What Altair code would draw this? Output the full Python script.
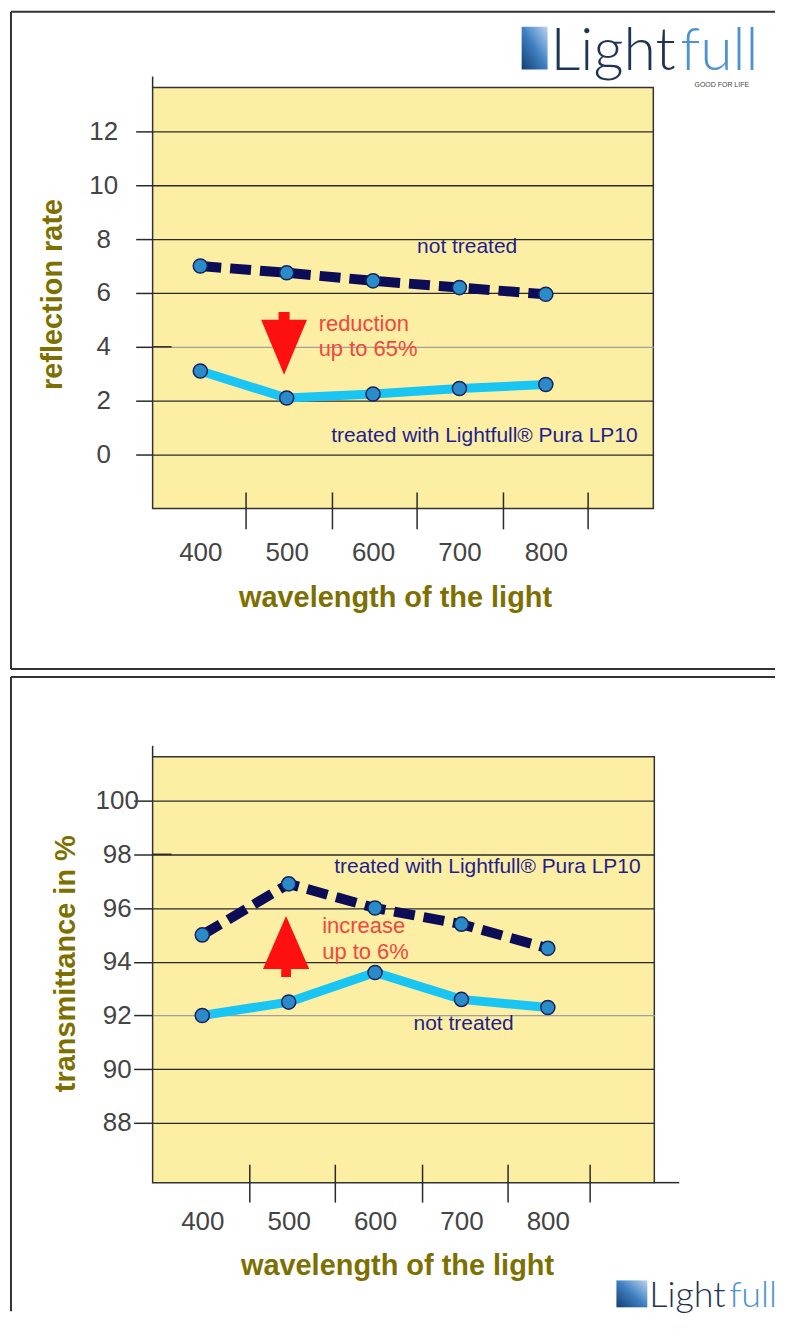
import altair as alt
import pandas as pd

# ---------------- data ----------------
wavelengths = [400, 500, 600, 700, 800]
refl_not_treated = [7.0, 6.75, 6.45, 6.2, 5.95]
refl_treated = [3.1, 2.1, 2.25, 2.45, 2.6]
trans_treated = [95.0, 96.9, 96.0, 95.4, 94.5]
trans_not_treated = [92.0, 92.5, 93.6, 92.6, 92.3]

top_y_ticks = [0, 2, 4, 6, 8, 10, 12]
bottom_y_ticks = [88, 90, 92, 94, 96, 98, 100]
top_x_marks = [453, 553, 651, 751, 849]
bottom_x_marks = [455, 554, 655, 754, 849]

top_note_text = ["not treated", "treated with Lightfull® Pura LP10"]
top_note_x = [651, 551.5]
top_note_y = [7.7, 0.67]
top_red_text = ["reduction", "up to 65%"]
top_red_x = [537, 537]
top_red_y = [4.85, 3.93]
top_arrow_x = [497]
top_arrow_y = [4.13]

bottom_note_text = ["treated with Lightfull® Pura LP10", "not treated"]
bottom_note_x = [552.7, 644.6]
bottom_note_y = [97.52, 91.67]
bottom_red_text = ["increase", "up to 6%"]
bottom_red_x = [538.8, 538.8]
bottom_red_y = [95.33, 94.37]
bottom_arrow_x = [497]
bottom_arrow_y = [94.57]

# ---------------- style ----------------
FONT = "Liberation Sans"
OLIVE = "#7d7000"
NAVY_TXT = "#1e1e90"
RED_TXT = "#f2473f"
RED = "#ff1010"
DARK = "#2a2a2a"
LINE_DARK = "#0c0c57"
LINE_CYAN = "#19c5f2"
PT_FILL = "#2b8bc9"
PT_STROKE = "#15235e"

ARROW_DOWN = "M-0.175,-1L0.175,-1L0.175,-0.75L0.73,-0.75L0,1L-0.73,-0.75L-0.175,-0.75Z"
ARROW_UP = "M0,-1L0.76,0.74L0.16,0.74L0.16,1L-0.16,1L-0.16,0.74L-0.76,0.74Z"

one = pd.DataFrame({"d": [0]})


def panel(W, H, xdom, ydom, yticks, ytitle, gray_value, ext_value, s1, s2, xmarks,
          notes, reds, arrow, arrow_shape, arrow_size, ytick_size, ylab_pad, ytitle_x,
          xtitle_x, xtitle_y, xlab_pad, tick_top, tick_bot, frame_left, frame_top,
          frame_bottom, frame_right, logo, bottom_line):
    x_axis = alt.Axis(values=wavelengths, ticks=False, domain=False, grid=False,
                      labelPadding=xlab_pad, labelFontSize=26, labelColor="#444444",
                      labelFont=FONT, format="d",
                      title="wavelength of the light", titleFont=FONT, titleFontSize=29,
                      titleFontWeight="bold", titleColor=OLIVE, titleX=xtitle_x,
                      titleY=xtitle_y, titleAlign="center", titleBaseline="middle")
    y_axis = alt.Axis(values=yticks, tickSize=ytick_size, tickColor=DARK, tickWidth=1.5,
                      labelAlign="center", labelBaseline="middle", labelPadding=ylab_pad,
                      labelFontSize=26, labelColor="#444444", labelFont=FONT,
                      grid=True,
                      gridColor={"condition": {"test": f"datum.value == {gray_value}",
                                               "value": "#a0a0a0"}, "value": DARK},
                      gridWidth=1.3, domain=False,
                      title=ytitle, titleFont=FONT, titleFontSize=29, titleFontWeight="bold",
                      titleColor=OLIVE, titleAngle=270, titleX=ytitle_x, titleY=207,
                      titleAlign="center", titleBaseline="middle")
    X = alt.X("x:Q", scale=alt.Scale(domain=xdom, nice=False, zero=False), axis=x_axis)
    Y = alt.Y("y:Q", scale=alt.Scale(domain=ydom, nice=False, zero=False), axis=y_axis)

    d1 = pd.DataFrame({"x": wavelengths, "y": s1})
    d2 = pd.DataFrame({"x": wavelengths, "y": s2})
    line1 = alt.Chart(d1).mark_line(color=LINE_DARK, strokeWidth=10, strokeDash=[21, 9],
                                    strokeCap="butt").encode(x=X, y=Y)
    line2 = alt.Chart(d2).mark_line(color=LINE_CYAN, strokeWidth=9).encode(x=X, y=Y)
    pts = alt.Chart(pd.concat([d1, d2])).mark_point(
        filled=True, size=200, fill=PT_FILL, stroke=PT_STROKE, strokeWidth=1.5, opacity=1
    ).encode(x=X, y=Y)

    marks_df = pd.DataFrame({"x": xmarks})
    xticks = alt.Chart(marks_df).mark_rule(color=DARK, strokeWidth=1.5).encode(
        x=X, y=alt.value(H + tick_top), y2=alt.value(H + tick_bot))

    ext_df = pd.DataFrame({"y": [ext_value]})
    ext = alt.Chart(ext_df).mark_rule(color=DARK, strokeWidth=1.5).encode(
        y=Y, x=alt.value(0), x2=alt.value(19))

    nd = pd.DataFrame({"x": notes[1], "y": notes[2], "t": notes[0]})
    note = alt.Chart(nd).mark_text(align="left", baseline="middle", font=FONT, fontSize=21,
                                   color=NAVY_TXT).encode(x=X, y=Y, text="t:N")
    rd = pd.DataFrame({"x": reds[1], "y": reds[2], "t": reds[0]})
    red = alt.Chart(rd).mark_text(align="left", baseline="middle", font=FONT, fontSize=22,
                                  color=RED_TXT).encode(x=X, y=Y, text="t:N")
    ad = pd.DataFrame({"x": arrow[0], "y": arrow[1]})
    arr = alt.Chart(ad).mark_point(shape=arrow_shape, filled=True, fill=RED, strokeWidth=0,
                                   size=arrow_size, opacity=1).encode(x=X, y=Y)

    frame = [
        alt.Chart(one).mark_rule(color="#333333", strokeWidth=2).encode(
            x=alt.value(frame_left), x2=alt.value(frame_right), y=alt.value(frame_top)),
        alt.Chart(one).mark_rule(color="#333333", strokeWidth=2).encode(
            x=alt.value(frame_left), y=alt.value(frame_top), y2=alt.value(frame_bottom)),
        alt.Chart(one).mark_rule(color=DARK, strokeWidth=1.5).encode(
            x=alt.value(0), y=alt.value(-11), y2=alt.value(0)),
    ]
    if bottom_line:
        frame.append(alt.Chart(one).mark_rule(color="#333333", strokeWidth=2).encode(
            x=alt.value(frame_left), x2=alt.value(frame_right), y=alt.value(frame_bottom)))
    else:
        frame.append(alt.Chart(one).mark_rule(color=DARK, strokeWidth=1.5).encode(
            x=alt.value(W), x2=alt.value(W + 25), y=alt.value(H)))

    ix1, ix2, iy1, iy2, light_x, full_x, tb, fs, tag_x = logo
    grad = alt.Gradient(gradient="linear", x1=0, y1=1, x2=1, y2=0,
                        stops=[alt.GradientStop(color="#123f73", offset=0),
                               alt.GradientStop(color="#3f7fc0", offset=0.5),
                               alt.GradientStop(color="#b9d6ef", offset=1)])
    logo_layers = [
        alt.Chart(one).mark_rect(fill=grad).encode(
            x=alt.value(ix1), x2=alt.value(ix2), y=alt.value(iy1), y2=alt.value(iy2)),
        alt.Chart(one).mark_text(text="Light", align="left", baseline="alphabetic",
                                 font="Lato", fontWeight=300, fontSize=fs,
                                 color="#1d3452").encode(x=alt.value(light_x), y=alt.value(tb)),
        alt.Chart(one).mark_text(text="full", align="left", baseline="alphabetic",
                                 font="Lato", fontWeight=300, fontSize=fs,
                                 color="#4c93d0").encode(x=alt.value(full_x), y=alt.value(tb)),
    ]
    if tag_x is not None:
        logo_layers.append(alt.Chart(one).mark_text(
            text="GOOD FOR LIFE", align="right", baseline="middle", font=FONT, fontSize=7,
            color="#444444").encode(x=alt.value(tag_x), y=alt.value(tb + 16)))

    layers = frame + logo_layers + [xticks, ext, line1, line2, pts, arr, note, red]
    return alt.layer(*layers).properties(width=W, height=H)


top = panel(502, 422, [344.8, 924.5], [-2.0, 13.63], top_y_ticks, "reflection rate", 4, 4,
            refl_not_treated, refl_treated, top_x_marks,
            (top_note_text, top_note_x, top_note_y), (top_red_text, top_red_x, top_red_y),
            (top_arrow_x, top_arrow_y), ARROW_DOWN, 3969, 17, 32.5, -100,
            243, 89, 31, -16, 21, -142, -76, 583, 624,
            (370, 396, -61, -18, 399, 529, -18, 59, 598), True)

bottom = panel(503, 427, [342.5, 923.3], [85.78, 101.63], bottom_y_ticks,
               "transmittance in %", 92, 98,
               trans_treated, trans_not_treated, bottom_x_marks,
               (bottom_note_text, bottom_note_x, bottom_note_y),
               (bottom_red_text, bottom_red_x, bottom_red_y),
               (bottom_arrow_x, bottom_arrow_y), ARROW_UP, 3721, 19, 17, -87,
               245, 83, 26, -18, 20, -142, -80, 556, 624,
               (465, 496, 525, 552, 498, 578, 552, 36, None), False)

chart = alt.vconcat(top, bottom, spacing=249, bounds="flush").properties(
    padding={"left": 1, "top": 0, "right": 0, "bottom": 0}
).configure(background="white").configure_view(
    fill="#fceea3", stroke="#333333", strokeWidth=1.5
)

chart.save("out.html", embed_options={"renderer": "svg", "actions": False})
